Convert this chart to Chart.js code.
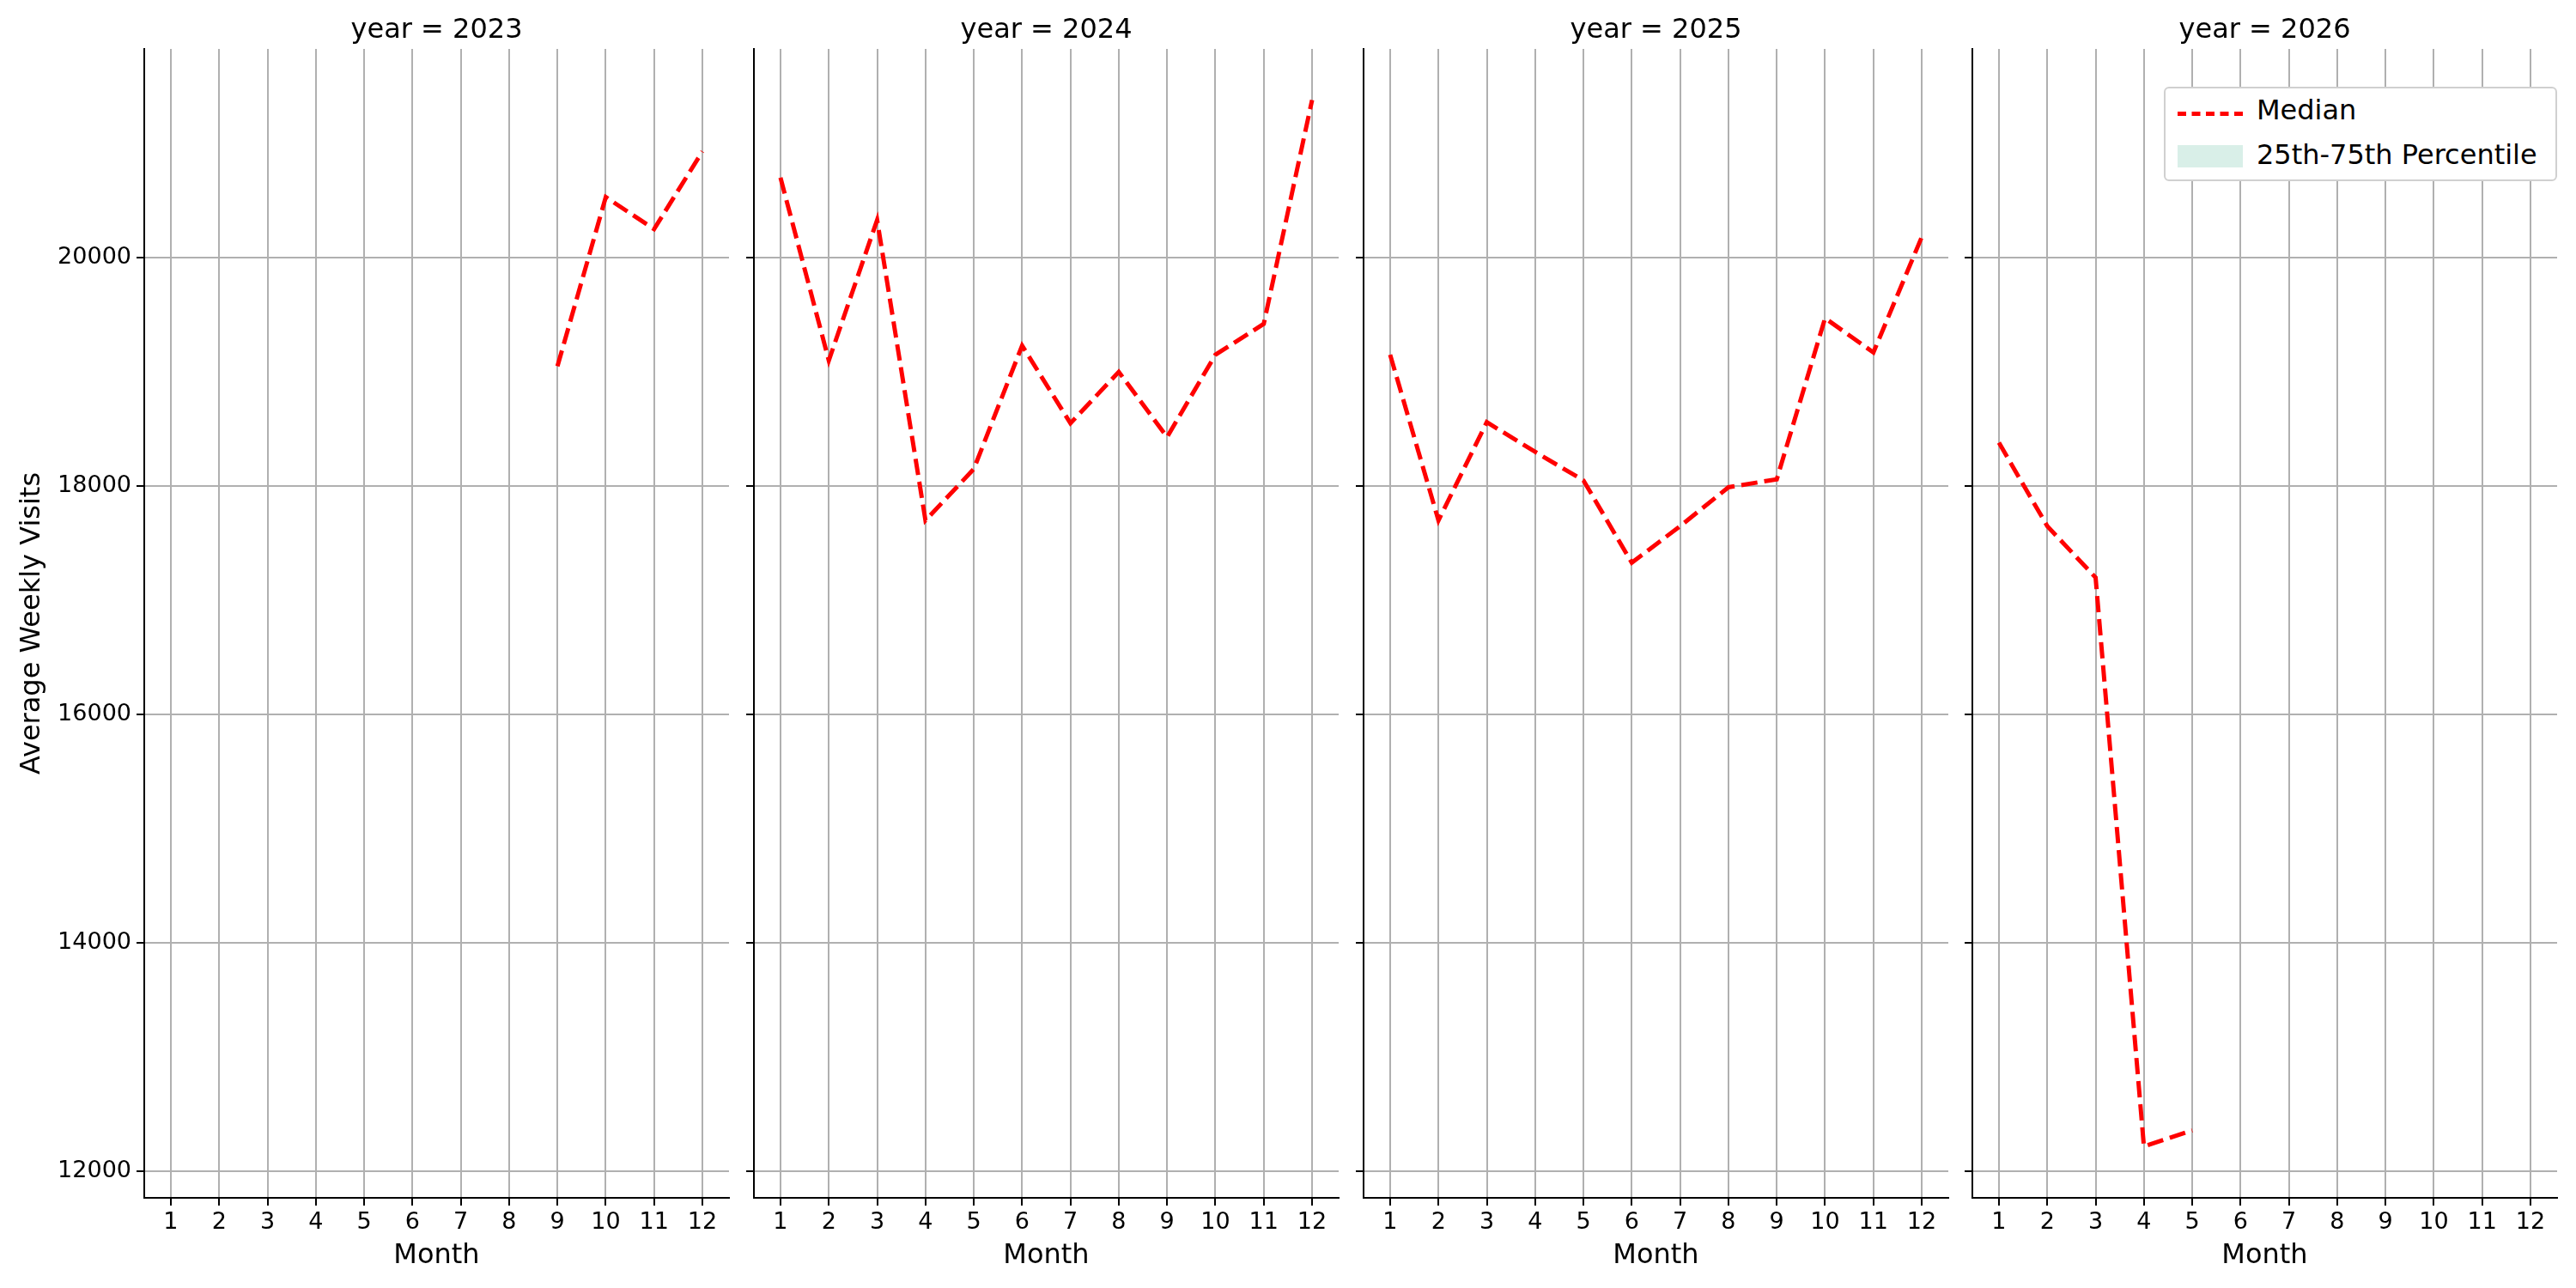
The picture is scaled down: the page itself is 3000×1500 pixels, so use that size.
<!DOCTYPE html>
<html><head><meta charset="utf-8">
<script src="https://cdn.jsdelivr.net/npm/chart.js@4"></script>
<style>
body{margin:0;width:3000px;height:1500px;background:#fff;position:relative;font-family:"DejaVu Sans",sans-serif;overflow:hidden}
canvas{position:absolute;top:0}
.t{position:absolute;top:14px;font-size:32px;color:#000;text-align:center}
#leg{position:absolute;left:2520px;top:101px;width:458px;height:110px;border:2px solid #d0d0d0;border-radius:6px;background:#fff;font-size:32px;box-sizing:border-box}
</style></head><body>
<script>
const years = [2023, 2024, 2025, 2026];
const months = [1,2,3,4,5,6,7,8,9,10,11,12];
const yTicks = [12000, 14000, 16000, 18000, 20000];
const median2023 = [null,null,null,null,null,null,null,null,19050,20530,20250,20930];
const median2024 = [20700,19100,20330,17700,18150,19230,18550,19000,18430,19150,19420,21380];
const median2025 = [19150,17700,18560,18300,18050,17330,17650,17990,18060,19470,19170,20180];
const median2026 = [18380,17650,17200,12220,12360,null,null,null,null,null,null,null];
const medians = [median2023, median2024, median2025, median2026];

const plotLefts = [168, 878, 1588, 2297];
const plotWidth = 681;
const font = {family:"DejaVu Sans", size:27};
const tfont = {family:"DejaVu Sans", size:32};
years.forEach((yr, i) => {
  const first = i === 0;
  const yw = first ? 168 : 20;
  const c = document.createElement('canvas');
  c.style.left = (plotLefts[i] - yw) + 'px';
  c.width = yw + plotWidth + 10; c.height = 1500;
  c.style.width = c.width + 'px'; c.style.height = '1500px';
  document.body.appendChild(c);
  const t = document.createElement('div');
  t.className = 't'; t.style.left = plotLefts[i] + 'px'; t.style.width = plotWidth + 'px';
  t.textContent = 'year = ' + yr; document.body.appendChild(t);
  const pts = months.map((m, k) => ({x: m, y: medians[i][k]}));
  new Chart(c, {
    type: 'line',
    data: {datasets: [{data: pts, borderColor: 'red', borderWidth: 5, borderDash: [19, 8],
      pointRadius: 0, fill: false, spanGaps: false, tension: 0}]},
    options: {
      responsive: false, animation: false, devicePixelRatio: 1,
      layout: {padding: {top: 57, right: 10, left: 0, bottom: 18}},
      plugins: {legend: {display: false}, tooltip: {enabled: false}},
      scales: {
        x: {type: 'linear', min: 0.45, max: 12.55,
          afterBuildTicks: s => { s.ticks = months.map(v => ({value: v})); },
          afterFit: s => { s.height = 87; },
          ticks: {font, color: '#000', padding: 4, autoSkip: false, maxRotation: 0},
          grid: {color: '#b0b0b0', lineWidth: 2, tickLength: 9, tickColor: '#000'},
          border: {display: true, color: '#000', width: 2},
          title: {display: true, text: 'Month', font: tfont, color: '#000', padding: 0}
        },
        y: {min: 11770, max: 21827,
          afterBuildTicks: s => { s.ticks = yTicks.map(v => ({value: v})); },
          afterFit: s => { s.width = yw; },
          ticks: {display: first, font, color: '#000', padding: 6, callback: v => String(v)},
          grid: {color: '#b0b0b0', lineWidth: 2, tickLength: 9, tickColor: '#000'},
          border: {display: true, color: '#000', width: 2},
          title: {display: first, text: 'Average Weekly Visits', font: tfont, color: '#000', padding: {top: 18, bottom: 10}}
        }
      }
    }
  });
});
</script>
<div id="leg">
  <div style="position:absolute;left:14px;top:27px;width:76px;border-top:5px dashed red"></div>
  <div style="position:absolute;left:106px;top:6px">Median</div>
  <div style="position:absolute;left:14px;top:66px;width:76px;height:26px;background:#d9efe8"></div>
  <div style="position:absolute;left:106px;top:58px">25th-75th Percentile</div>
</div>
</body></html>
